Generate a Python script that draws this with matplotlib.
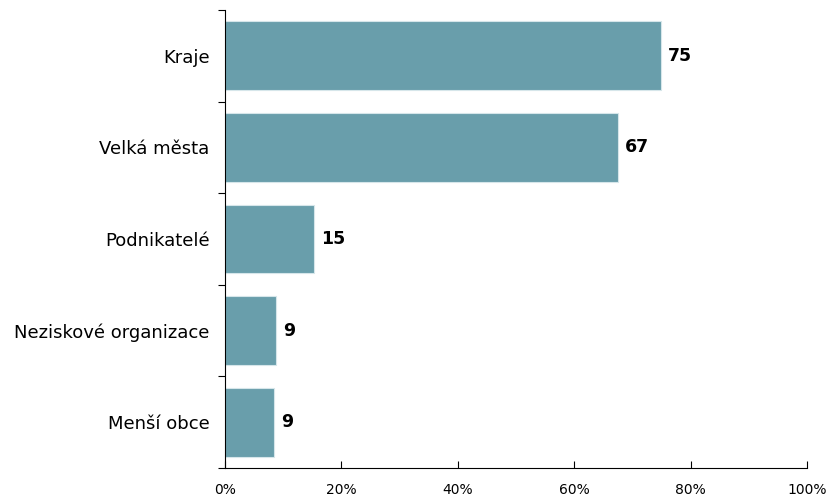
import matplotlib.pyplot as plt
from matplotlib.ticker import FuncFormatter, MultipleLocator

categories = ['Kraje', 'Velká města', 'Podnikatelé', 'Neziskové organizace', 'Menší obce']
shares = [74.9, 67.5, 15.3, 8.8, 8.4]
value_labels = ['75', '67', '15', '9', '9']

plt.rcParams['font.family'] = ['DejaVu Sans']

fig = plt.figure(figsize=(8.29, 4.98), dpi=100)
ax = fig.add_axes([0.2714, 0.0602, 0.7021, 0.9197])

ypos = list(range(len(categories)))
ax.barh(ypos, shares, height=0.75, color='#699EAB', edgecolor='#D6E6EA', linewidth=0.8)
for y, v, lab in zip(ypos, shares, value_labels):
    ax.text(v + 1.2, y, lab, va='center', ha='left', fontsize=12.5, fontweight='bold')

ax.set_xlim(0, 100)
ax.set_ylim(len(categories) - 0.5, -0.5)
ax.xaxis.set_major_locator(MultipleLocator(20))
ax.xaxis.set_major_formatter(FuncFormatter(lambda x, p: f'{x:.0f}%'))

ax.set_yticks(ypos)
ax.set_yticklabels(categories, fontsize=13)
ax.tick_params(axis='y', length=0, pad=11)
ax.set_yticks([y - 0.5 for y in range(len(categories) + 1)], minor=True)
ax.tick_params(axis='y', which='minor', length=5, direction='out', width=0.8)
ax.tick_params(axis='x', direction='in', length=5, labelsize=10, pad=11)

for s in ['top', 'right']:
    ax.spines[s].set_visible(False)
ax.spines['left'].set_linewidth(0.8)
ax.spines['bottom'].set_linewidth(0.8)

fig.savefig('out.png', dpi=100)
